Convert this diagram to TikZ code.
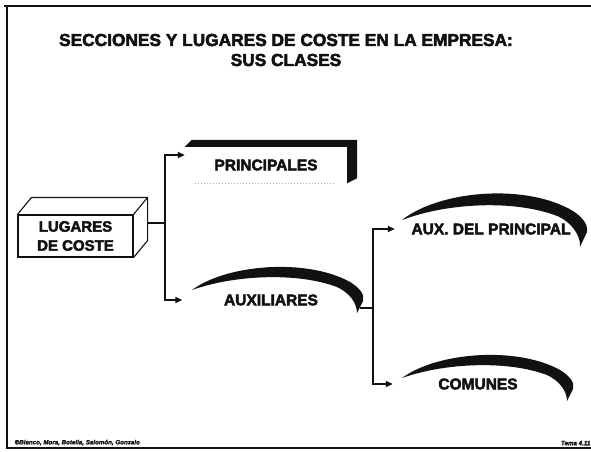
\documentclass[tikz,border=0pt]{standalone}
\usepackage{fontspec}
\usetikzlibrary{arrows.meta, positioning, calc}
\setmainfont{Liberation Sans}
\newfontfamily\heavyfont{Liberation Sans Bold}[FakeBold=3]
\newfontfamily\footfont{Liberation Sans Bold Italic}[FakeBold=2]
\definecolor{ink}{HTML}{111111}
\definecolor{faint}{HTML}{B0B0B0}
\tikzset{
  font=\heavyfont,
  title/.style={font=\heavyfont\fontsize{17.3}{20}\selectfont, text=ink, align=center, inner sep=0pt},
  place/.style={rectangle, draw=ink, line width=1.1pt, fill=white, text=ink, align=center,
                font=\heavyfont\fontsize{15}{19}\selectfont, minimum width=115pt, minimum height=42pt, inner sep=0pt},
  section/.style={rectangle, text=ink, align=center, font=\heavyfont\fontsize{15.5}{19}\selectfont,
                  minimum height=30pt, inner sep=0pt},
  link/.style={draw=ink, line width=1.6pt},
  branch/.style={-{Triangle[length=7pt, width=6pt]}, draw=ink, line width=1.6pt},
  edge/.style={draw=ink, line width=1.1pt, line join=round},
  frame/.style={draw=ink, line width=1.8pt},
  footer/.style={font=\footfont\fontsize{6.2}{7}\selectfont, text=ink, inner sep=0.5pt},
  swoosh/.pic={
    \fill[ink] (0,0) .. controls (35,-26) and (115,-32) .. (158,-8)
      .. controls (168,-2) and (173,5) .. (171,11)
      -- (165,23)
      .. controls (165,12) and (156,2) .. (145,-3)
      .. controls (105,-18) and (42,-15) .. (0,0) -- cycle;
  },
}

\begin{document}
\begin{tikzpicture}[x=1pt, y=-1pt]
  \useasboundingbox (0,0) rectangle (591,451);

  % --- slide frame (open to the right) ---
  \draw[frame] (4,6) -- (591,6);
  \draw[frame] (7,6) -- (7,448) -- (591,448);

  % --- heading ---
  \node[title] (head) at (286,50) {SECCIONES Y LUGARES DE COSTE EN LA EMPRESA:\\ SUS CLASES};

  % --- nodes ---
  \node[place]   (lug)  at (75.5,236) {LUGARES\\ DE COSTE};
  \node[section, minimum width=162pt, minimum height=36pt] (prin) at (266,165) {PRINCIPALES};
  \node[section, minimum width=177pt] (auxi) at (271,300) {AUXILIARES};
  \node[section, minimum width=192pt] (adp)  at (491,229) {AUX. DEL PRINCIPAL};
  \node[section, minimum width=170pt] (com)  at (478,384) {COMUNES};

  % --- 3d look of the box and the slab ---
  \draw[edge] (lug.north west) -- ++(14,-17) -- ([shift={(14,-17)}]lug.north east)
              -- ([shift={(14,-17)}]lug.south east) -- (lug.south east);
  \draw[edge] (lug.north east) -- ++(14,-17);
  \fill[ink] (prin.north west) -- ++(7,-7) -| ([shift={(10,-5)}]prin.south east)
             -- (prin.south east) -- (prin.north east) -- cycle;
  \draw[faint, dotted, line width=1pt] ([xshift=10pt]prin.south west) -- ([xshift=-12pt]prin.south east);

  % --- swooshes over the section labels ---
  \pic at (192,290) {swoosh};
  \pic[xscale=1.08, yscale=1.15] at (402,220) {swoosh};
  \pic at (402,378) {swoosh};

  % --- branches ---
  \coordinate (j1) at (165,223);
  \coordinate (j2) at (373,308);
  \draw[link] ([shift={(14,-13)}]lug.east) -- (j1);
  \draw[branch] (j1) |- ([yshift=10pt]prin.west);
  \draw[branch] (j1) |- (auxi.west);
  \draw[link] ([yshift=-8pt]auxi.east) -- (j2);
  \draw[branch] (j2) |- (adp.west);
  \draw[branch] (j2) |- (com.west);

  % --- footer ---
  \node[footer, anchor=south west] (credit) at (14,446) {©Blanco, Mora, Botella, Salomón, Gonzalo};
  \node[footer, anchor=south east] (page)   at (591,446) {Tema 4.11};
\end{tikzpicture}
\end{document}
